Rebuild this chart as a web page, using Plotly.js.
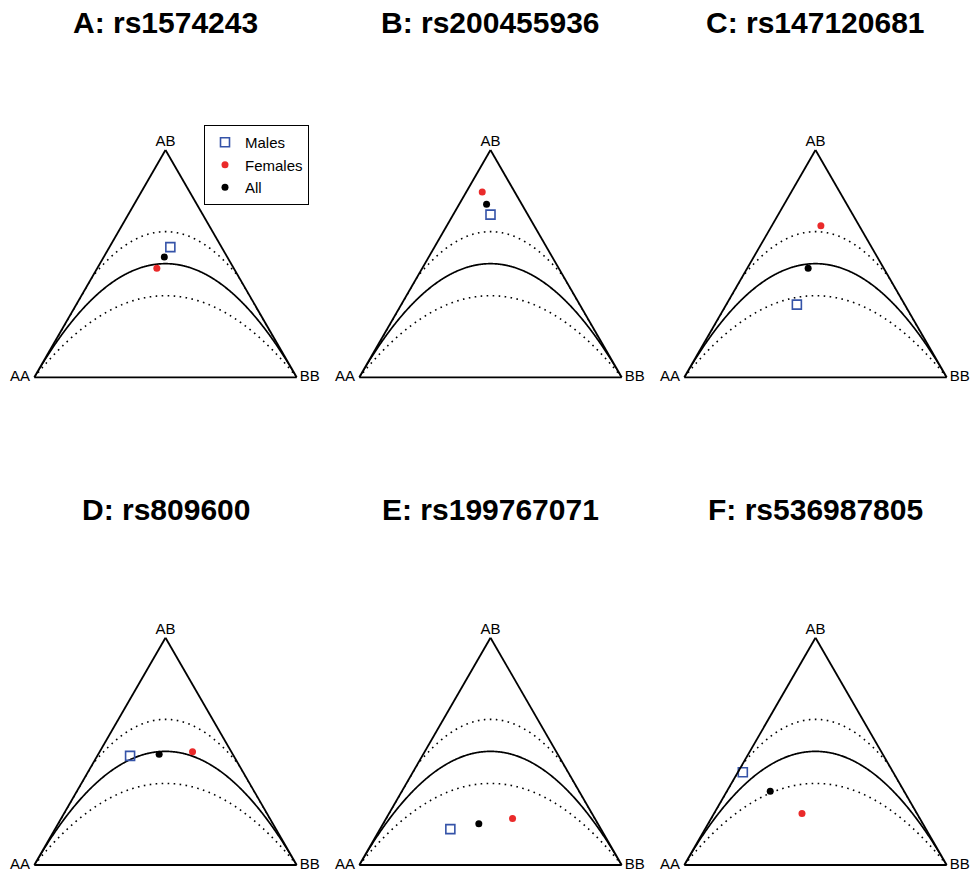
<!DOCTYPE html>
<html>
<head>
<meta charset="utf-8">
<script src="https://cdn.plot.ly/plotly-3.0.1.min.js"></script>
<style>html,body{margin:0;padding:0;background:#fff;}#chart{width:971px;height:873px;}</style>
</head>
<body>
<div id="chart"></div>
<script>
// ---- data (genotype frequencies) ----
var panelTitles = ["A: rs1574243", "B: rs200455936", "C: rs147120681",
                   "D: rs809600", "E: rs199767071", "F: rs536987805"];
var cornerLabels = ["AA\u00a0", "AB", "\u2009BB"];
var groupNames = ["Males", "Females", "All"];

var malesAA   = [0.195, 0.142, 0.411, 0.395, 0.574, 0.573];
var malesAB   = [0.573, 0.716, 0.320, 0.480, 0.158, 0.408];
var malesBB   = [0.232, 0.142, 0.269, 0.125, 0.268, 0.019];

var femalesAA = [0.293, 0.124, 0.146, 0.148, 0.3135, 0.438];
var femalesAB = [0.480, 0.815, 0.667, 0.498, 0.205, 0.227];
var femalesBB = [0.227, 0.061, 0.187, 0.354, 0.4815, 0.335];

var allAA     = [0.240, 0.134, 0.288, 0.2805, 0.454, 0.510];
var allAB     = [0.529, 0.762, 0.480, 0.4875, 0.181, 0.325];
var allBB     = [0.231, 0.104, 0.232, 0.232, 0.365, 0.165];

// half-width of the acceptance band relative to 2pq
var bandK = 0.282;

// ---- HWE reference curves (theory: AB = 2pq, band = 2pq(1 +/- k)) ----
function bandCurve(factor) {
  var a = [], b = [], c = [];
  var N = 400;
  var pts = [];
  for (var i = 0; i <= N; i++) {
    var p = i / N, q = 1 - p;
    var ab = 2 * p * q * factor;
    var aa = p - ab / 2, bb = q - ab / 2;
    if (aa < -1e-12 || bb < -1e-12) continue;
    pts.push([p, ab, Math.max(aa, 0), Math.max(bb, 0)]);
  }
  if (factor > 1) {
    var pLo = 1 - 1 / factor;           // AA = 0 edge
    var pHi = 1 / factor;               // BB = 0 edge
    var abLo = 2 * pLo * (1 - pLo) * factor;
    var abHi = 2 * pHi * (1 - pHi) * factor;
    pts.push([pLo, abLo, 0, Math.max(0, (1 - pLo) - abLo / 2)]);
    pts.push([pHi, abHi, Math.max(0, pHi - abHi / 2), 0]);
    pts.sort(function(u, v){ return u[0] - v[0]; });
  }
  pts.forEach(function(t){ a.push(t[1]); b.push(t[2]); c.push(t[3]); });
  return {a: a, b: b, c: c};
}

var centre = bandCurve(1);
var upper = bandCurve(1 + bandK);
var lower = bandCurve(1 - bandK);

// ---- layout geometry ----
var W = 971, H = 873;
var triW = 262.4, triH = triW * Math.sqrt(3) / 2;
var lefts = [34.3, 359.3, 684.3];
var bases = [377.3, 865.0];
var titleY = [22, 509];

var FONT = "Liberation Sans, Arial, Helvetica, sans-serif";
var traces = [];
var layout = {
  width: W, height: H,
  margin: {l: 0, r: 0, t: 0, b: 0},
  paper_bgcolor: "#ffffff",
  showlegend: true,
  legend: {
    x: 204 / W, y: 1 - 125 / H, xanchor: "left", yanchor: "top",
    bordercolor: "#000000", borderwidth: 1, bgcolor: "#ffffff",
    font: {family: FONT, size: 15, color: "#000000"},
    tracegroupgap: 0, itemwidth: 30
  },
  annotations: [],
  hovermode: false
};

function axisStyle() {
  return {
    title: {text: ""}, showgrid: false, showticklabels: false, ticks: "",
    showline: true, linecolor: "#000000", linewidth: 1.8, min: 0
  };
}

for (var k = 0; k < 6; k++) {
  var row = Math.floor(k / 3), col = k % 3;
  var id = k === 0 ? "ternary" : "ternary" + (k + 1);
  var x0 = lefts[col] / W, x1 = (lefts[col] + triW) / W;
  var y0 = (H - bases[row]) / H, y1 = (H - bases[row] + triH) / H;
  layout[id] = {
    domain: {x: [x0, x1], y: [y0, y1]},
    sum: 1, bgcolor: "#ffffff",
    aaxis: axisStyle(), baxis: axisStyle(), caxis: axisStyle()
  };
  layout.annotations.push({
    text: "<b>" + panelTitles[k] + "</b>", showarrow: false,
    xref: "paper", yref: "paper",
    x: (lefts[col] + triW / 2) / W, y: 1 - titleY[row] / H,
    xanchor: "center", yanchor: "middle",
    font: {family: FONT, size: 30, color: "#000000"}
  });

  // curves
  [[upper, "1.6px,4.4px"], [lower, "1.6px,4.4px"], [centre, "solid"]].forEach(function(cv){
    traces.push({
      type: "scatterternary", subplot: id, mode: "lines",
      a: cv[0].a, b: cv[0].b, c: cv[0].c,
      line: {color: "#000000", width: cv[1] === "solid" ? 1.7 : 1.6, dash: cv[1]},
      showlegend: false, hoverinfo: "skip", cliponaxis: true
    });
  });

  // corner labels
  traces.push({
    type: "scatterternary", subplot: id, mode: "text",
    a: [0, 1, 0], b: [1, 0, 0], c: [0, 0, 1],
    text: cornerLabels,
    textposition: ["middle left", "top center", "middle right"],
    textfont: {family: FONT, size: 15, color: "#000000"},
    showlegend: false, hoverinfo: "skip", cliponaxis: false
  });

  // points
  traces.push({
    type: "scatterternary", subplot: id, mode: "markers", name: groupNames[0],
    a: [malesAB[k]], b: [malesAA[k]], c: [malesBB[k]],
    marker: {symbol: "square-open", size: 9, color: "#3553a8", line: {width: 1.6, color: "#3553a8"}},
    showlegend: k === 0, legendrank: 1, cliponaxis: false
  });
  traces.push({
    type: "scatterternary", subplot: id, mode: "markers", name: groupNames[1],
    a: [femalesAB[k]], b: [femalesAA[k]], c: [femalesBB[k]],
    marker: {symbol: "circle", size: 7, color: "#ea2a2a"},
    showlegend: k === 0, legendrank: 2, cliponaxis: false
  });
  traces.push({
    type: "scatterternary", subplot: id, mode: "markers", name: groupNames[2],
    a: [allAB[k]], b: [allAA[k]], c: [allBB[k]],
    marker: {symbol: "circle", size: 7, color: "#000000"},
    showlegend: k === 0, legendrank: 3, cliponaxis: false
  });
}

Plotly.newPlot("chart", traces, layout, {staticPlot: true, displayModeBar: false});
</script>
</body>
</html>
